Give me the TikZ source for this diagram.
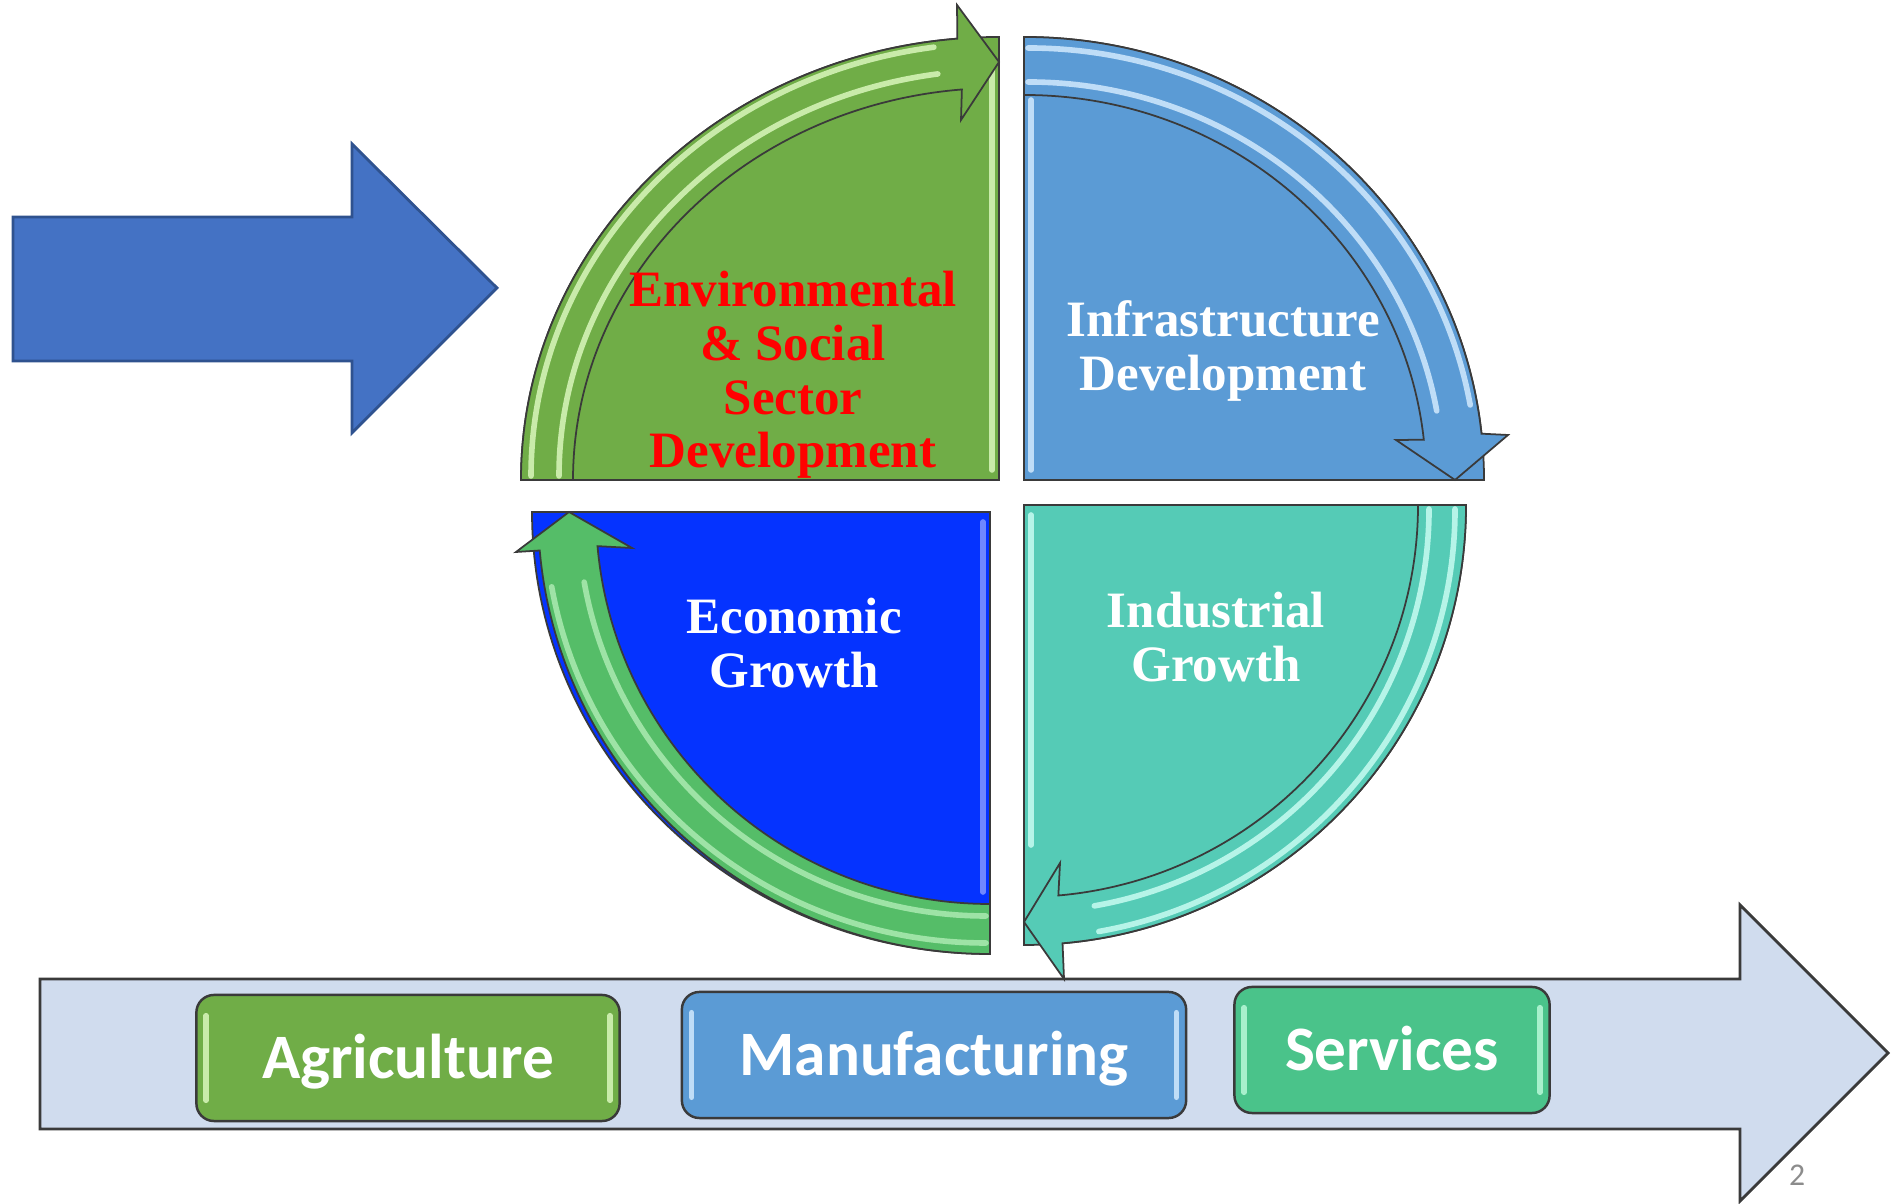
\documentclass[tikz,border=0pt]{standalone}
\usepackage{fontspec}
\setmainfont{Liberation Serif}
\newfontfamily\carlito{Carlito}
\usetikzlibrary{calc}
\definecolor{edge}{HTML}{3A3A3A}
\definecolor{arrowblue}{HTML}{4472C4}
\definecolor{arrowedge}{HTML}{2F528F}
\definecolor{bandfill}{HTML}{D0DCEE}
\definecolor{envgreen}{HTML}{70AD47}
\definecolor{envlight}{HTML}{C9EBAA}
\definecolor{infblue}{HTML}{5B9BD5}
\definecolor{inflight}{HTML}{BFDDF7}
\definecolor{ecoblue}{HTML}{0533FF}
\definecolor{ecolight}{HTML}{6F88FF}
\definecolor{ecogreen}{HTML}{55BD68}
\definecolor{ecogreenlight}{HTML}{9EE3A6}
\definecolor{indteal}{HTML}{55CBB6}
\definecolor{indlight}{HTML}{B6F4E8}
\definecolor{servgreen}{HTML}{4AC38A}
\definecolor{servlight}{HTML}{A8F0CC}
\definecolor{pagegrey}{HTML}{8C8C8C}
\tikzset{
  every node/.style={inner sep=0pt},
  outline/.style={draw=edge, line width=0.5pt},
  gloss/.style={line width=1.6pt, line cap=round},
  quadtext/.style={font=\fontsize{14.5}{15.3}\selectfont\bfseries, align=center, text=white},
  sectorbox/.style={draw=edge, line width=0.7pt, rounded corners=5pt, minimum height=1.26cm,
    text height=11.6pt, text depth=0pt, text=white, font=\carlito\fontsize{18}{20}\selectfont\bfseries},
}

\begin{document}
\begin{tikzpicture}[x=0.01cm, y=0.01cm]
  \useasboundingbox (0,0) rectangle (1898,1204);

  % input arrow on the left
  \filldraw[draw=arrowedge, fill=arrowblue, line width=0.8pt]
    (13,843) -- (13,987) -- (352,987) -- (352,1060) -- (497,916) -- (352,771) -- (352,843) -- cycle;

  % long arrow carrying the sectors
  \filldraw[draw=edge, fill=bandfill, line width=0.8pt]
    (40,75) -- (40,225) -- (1740,225) -- (1740,299) -- (1888,151) -- (1740,3) -- (1740,75) -- cycle;

  % top left: environmental & social
  \begin{scope}[shift={(999,724)}]
    \filldraw[outline, fill=envgreen] (0,0) -- (-478,0) arc[start angle=180, end angle=90, x radius=478, y radius=443] -- cycle;
    \draw[gloss, envlight] (-7,10) -- (-7,420);
    \filldraw[outline, fill=envgreen] (-478,0) arc[start angle=180, end angle=95, x radius=478, y radius=443]
      -- (-42,475) -- (0,418) -- (-38,360) -- (95:426 and 392) arc[start angle=95, end angle=180, x radius=426, y radius=392] -- cycle;
    \draw[gloss, envlight] (-468,4) arc[start angle=180, end angle=98, x radius=468, y radius=433];
    \draw[gloss, envlight] (-440,4) arc[start angle=180, end angle=98, x radius=440, y radius=406];
  \end{scope}

  % top right: infrastructure
  \begin{scope}[shift={(1024,724)}]
    \filldraw[outline, fill=infblue] (0,0) -- (0,443) arc[start angle=90, end angle=0, x radius=460, y radius=443] -- cycle;
    \draw[gloss, inflight] (7,10) -- (7,380);
    \filldraw[outline, fill=infblue] (0,443) arc[start angle=90, end angle=6, x radius=460, y radius=443]
      -- (484,45) -- (431,0) -- (372,40) -- (6:402 and 385) arc[start angle=6, end angle=90, x radius=402, y radius=385] -- cycle;
    \draw[gloss, inflight] (4,432) arc[start angle=90, end angle=10, x radius=449, y radius=432];
    \draw[gloss, inflight] (4,398) arc[start angle=90, end angle=10, x radius=415, y radius=398];
  \end{scope}

  % bottom left: economic growth
  \begin{scope}[shift={(990,692)}]
    \filldraw[outline, fill=ecoblue] (0,0) -- (-458,0) arc[start angle=180, end angle=270, x radius=458, y radius=442] -- cycle;
    \draw[gloss, ecolight] (-7,-10) -- (-7,-380);
    \filldraw[outline, fill=ecogreen] (0,-442) arc[start angle=270, end angle=185, x radius=452, y radius=442]
      -- (-474,-40) -- (-421,0) -- (-358,-36) -- (185:394 and 392) arc[start angle=185, end angle=270, x radius=394, y radius=392] -- cycle;
    \draw[gloss, ecogreenlight] (-4,-431) arc[start angle=270, end angle=190, x radius=441, y radius=431];
    \draw[gloss, ecogreenlight] (-4,-404) arc[start angle=270, end angle=190, x radius=408, y radius=404];
  \end{scope}

  % bottom right: industrial growth
  \begin{scope}[shift={(1024,699)}]
    \filldraw[outline, fill=indteal] (0,0) -- (442,0) arc[start angle=0, end angle=-90, x radius=442, y radius=440] -- cycle;
    \draw[gloss, indlight] (7,-10) -- (7,-340);
    \filldraw[outline, fill=indteal] (442,0) arc[start angle=0, end angle=-85, x radius=442, y radius=440]
      -- (40,-474) -- (0,-417) -- (36,-358) -- (-85:394 and 392) arc[start angle=-85, end angle=0, x radius=394, y radius=392] -- cycle;
    \draw[gloss, indlight] (431,-4) arc[start angle=0, end angle=-80, x radius=431, y radius=429];
    \draw[gloss, indlight] (405,-4) arc[start angle=0, end angle=-80, x radius=405, y radius=403];
  \end{scope}

  % quadrant labels
  \node[quadtext, text=red] (envtext) at (793,829) {Environmental\\\& Social\\Sector\\Development};
  \node[quadtext] (inftext) at (1223,853) {Infrastructure\\Development};
  \node[quadtext] (ecotext) at (794,561) {Economic\\Growth};
  \node[quadtext] (indtext) at (1216,567) {Industrial\\Growth};

  % sectors
  \node[sectorbox, fill=envgreen, minimum width=4.23cm] (agri) at (408,146) {Agriculture};
  \node[sectorbox, fill=infblue, minimum width=5.04cm] (manu) at (934,149) {Manufacturing};
  \node[sectorbox, fill=servgreen, minimum width=3.15cm] (serv) at (1392,154) {Services};
  \draw[gloss, envlight] ($(agri.north west)+(11,-22)$) -- ($(agri.south west)+(11,22)$);
  \draw[gloss, envlight] ($(agri.north east)+(-11,-22)$) -- ($(agri.south east)+(-11,22)$);
  \draw[gloss, inflight] ($(manu.north west)+(11,-22)$) -- ($(manu.south west)+(11,22)$);
  \draw[gloss, inflight] ($(manu.north east)+(-11,-22)$) -- ($(manu.south east)+(-11,22)$);
  \draw[gloss, servlight] ($(serv.north west)+(11,-22)$) -- ($(serv.south west)+(11,22)$);
  \draw[gloss, servlight] ($(serv.north east)+(-11,-22)$) -- ($(serv.south east)+(-11,22)$);

  \node[font=\carlito\fontsize{9}{10}\selectfont, text=pagegrey] (pageno) at (1797,29) {2};
\end{tikzpicture}
\end{document}
